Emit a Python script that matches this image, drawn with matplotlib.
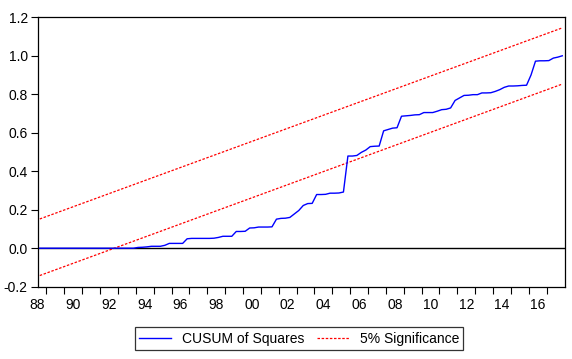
import numpy as np
import pandas as pd
import matplotlib
matplotlib.use("Agg")
import matplotlib.pyplot as plt
from matplotlib.ticker import FixedLocator, NullFormatter, FixedFormatter

plt.rcParams["font.family"] = ["Liberation Sans", "DejaVu Sans"]
plt.rcParams["axes.unicode_minus"] = False

# quarterly sample 1988Q3 - 2017Q4
quarters = pd.period_range("1988Q3", "2017Q4", freq="Q")

cusum_sq = [
    0.0, 0.0, 0.0, 0.0, 0.0, 0.0, 0.0, 0.0, 0.0, 0.0,
    0.0, 0.0, 0.0, 0.0, 0.0, 0.0, 0.0, 0.0, 0.0, 0.0,
    0.0, 0.0, 0.004, 0.005, 0.007, 0.01, 0.01, 0.01, 0.015, 0.025,
    0.025, 0.025, 0.025, 0.049, 0.051, 0.051, 0.051, 0.051, 0.051, 0.052,
    0.056, 0.062, 0.062, 0.062, 0.087, 0.087, 0.088, 0.105, 0.106, 0.11,
    0.11, 0.11, 0.111, 0.151, 0.155, 0.156, 0.16, 0.178, 0.196, 0.222,
    0.232, 0.233, 0.279, 0.279, 0.28, 0.286, 0.286, 0.287, 0.292, 0.479,
    0.479, 0.482, 0.498, 0.51, 0.528, 0.53, 0.531, 0.61, 0.617, 0.624,
    0.626, 0.686, 0.688, 0.69, 0.693, 0.694, 0.705, 0.705, 0.705, 0.712,
    0.72, 0.722, 0.729, 0.768, 0.781, 0.794, 0.795, 0.798, 0.798, 0.807,
    0.807, 0.808, 0.815, 0.824, 0.836, 0.843, 0.843, 0.844, 0.846, 0.847,
    0.9, 0.972, 0.974, 0.974, 0.975, 0.988, 0.993, 1.0,
]

# 5% significance bands (straight lines: first and last observation)
upper_band = [0.152, 1.145]
lower_band = [-0.142, 0.853]

year_labels = ["88", "90", "92", "94", "96", "98", "00", "02",
               "04", "06", "08", "10", "12", "14", "16"]


def to_year(periods):
    # centre of each quarter in fractional years
    return np.array([p.year + (p.quarter - 1) / 4 + 0.125 for p in periods])


def main():
    x = to_year(quarters)
    band_x = [x[0], x[-1]]

    fig = plt.figure(figsize=(5.72, 3.59), dpi=100)
    ax = fig.add_axes([0.0656, 0.2014, 0.9213, 0.7504])

    dash = (0, (2.0, 1.3))
    ax.axhline(0, color="black", lw=1.0, zorder=1)
    ax.plot(band_x, upper_band, color="#FF0000", lw=0.9,
            linestyle=dash, zorder=2)
    ax.plot(band_x, lower_band, color="#FF0000", lw=0.9,
            linestyle=dash, zorder=2, label="5% Significance")
    ax.plot(x, cusum_sq, color="#0000FF", lw=1.0, zorder=3,
            label="CUSUM of Squares")

    ax.set_xlim(1988.5, 2018.0)
    ax.set_ylim(-0.2, 1.2)
    ax.set_yticks(np.arange(-0.2, 1.21, 0.2))
    ax.yaxis.set_major_formatter(plt.FuncFormatter(lambda v, p: f"{v:.1f}"))

    # ticks at year boundaries, labels centred in the even years
    ax.xaxis.set_major_locator(FixedLocator(np.arange(1989, 2018)))
    ax.xaxis.set_major_formatter(NullFormatter())
    label_pos = [int("19" + s) if s >= "50" else int("20" + s)
                 for s in year_labels]
    ax.xaxis.set_minor_locator(FixedLocator([p + 0.5 for p in label_pos]))
    ax.xaxis.set_minor_formatter(FixedFormatter(year_labels))
    ax.tick_params(axis="x", which="minor", length=0, pad=8, labelsize=10)
    ax.tick_params(axis="x", which="major", length=5, width=0.8)
    ax.tick_params(axis="y", length=5, width=0.8, labelsize=10, pad=2)

    for s in ax.spines.values():
        s.set_linewidth(0.9)

    handles, labels = ax.get_legend_handles_labels()
    leg = fig.legend(handles[::-1], labels[::-1], loc="center",
                     bbox_to_anchor=(0.5227, 0.0571), ncol=2,
                     fontsize=10, frameon=True, fancybox=False,
                     edgecolor="black", handlelength=2.3,
                     columnspacing=0.9, borderpad=0.3, handletextpad=0.8)
    leg.get_frame().set_linewidth(0.9)

    fig.savefig("out.png", dpi=100)
    plt.close(fig)


if __name__ == "__main__":
    main()
